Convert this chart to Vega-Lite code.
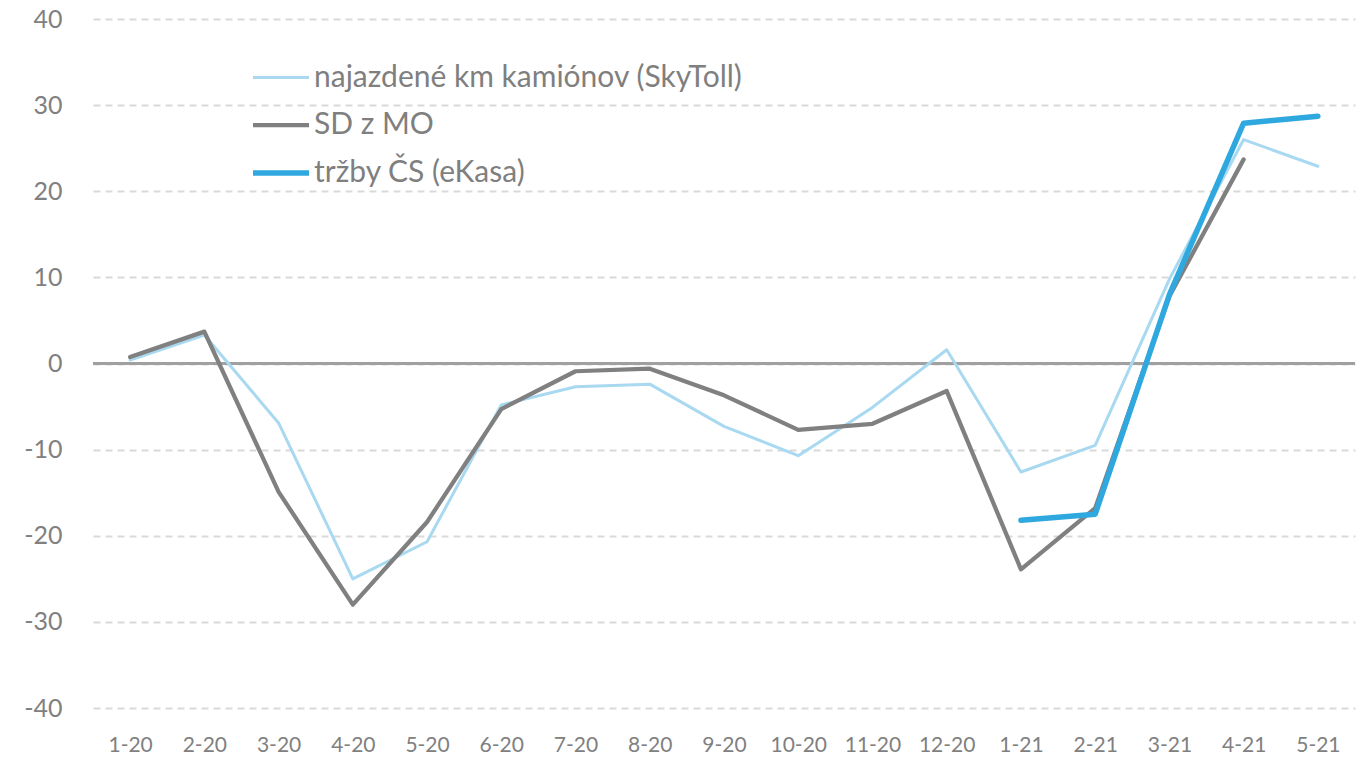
{
  "$schema": "https://vega.github.io/schema/vega-lite/v6.json",
  "width": 1262,
  "height": 689,
  "autosize": {"type": "none"},
  "padding": {"left": 93, "top": 19, "right": 10, "bottom": 49},
  "background": "white",
  "config": {"view": {"stroke": null}, "font": "Lato"},
  "data": {
    "values": [
      {"m": "1-20", "s": "najazdené km kamiónov (SkyToll)", "v": 0.4},
      {"m": "2-20", "s": "najazdené km kamiónov (SkyToll)", "v": 3.3},
      {"m": "3-20", "s": "najazdené km kamiónov (SkyToll)", "v": -6.9},
      {"m": "4-20", "s": "najazdené km kamiónov (SkyToll)", "v": -25.0},
      {"m": "5-20", "s": "najazdené km kamiónov (SkyToll)", "v": -20.7},
      {"m": "6-20", "s": "najazdené km kamiónov (SkyToll)", "v": -4.8},
      {"m": "7-20", "s": "najazdené km kamiónov (SkyToll)", "v": -2.7},
      {"m": "8-20", "s": "najazdené km kamiónov (SkyToll)", "v": -2.4},
      {"m": "9-20", "s": "najazdené km kamiónov (SkyToll)", "v": -7.3},
      {"m": "10-20", "s": "najazdené km kamiónov (SkyToll)", "v": -10.7},
      {"m": "11-20", "s": "najazdené km kamiónov (SkyToll)", "v": -5.1},
      {"m": "12-20", "s": "najazdené km kamiónov (SkyToll)", "v": 1.6},
      {"m": "1-21", "s": "najazdené km kamiónov (SkyToll)", "v": -12.6},
      {"m": "2-21", "s": "najazdené km kamiónov (SkyToll)", "v": -9.5},
      {"m": "3-21", "s": "najazdené km kamiónov (SkyToll)", "v": 9.8},
      {"m": "4-21", "s": "najazdené km kamiónov (SkyToll)", "v": 26.0},
      {"m": "5-21", "s": "najazdené km kamiónov (SkyToll)", "v": 22.9},
      {"m": "1-20", "s": "SD z MO", "v": 0.75},
      {"m": "2-20", "s": "SD z MO", "v": 3.7},
      {"m": "3-20", "s": "SD z MO", "v": -14.9},
      {"m": "4-20", "s": "SD z MO", "v": -28.0},
      {"m": "5-20", "s": "SD z MO", "v": -18.4},
      {"m": "6-20", "s": "SD z MO", "v": -5.3},
      {"m": "7-20", "s": "SD z MO", "v": -0.9},
      {"m": "8-20", "s": "SD z MO", "v": -0.6},
      {"m": "9-20", "s": "SD z MO", "v": -3.7},
      {"m": "10-20", "s": "SD z MO", "v": -7.7},
      {"m": "11-20", "s": "SD z MO", "v": -7.0},
      {"m": "12-20", "s": "SD z MO", "v": -3.2},
      {"m": "1-21", "s": "SD z MO", "v": -23.9},
      {"m": "2-21", "s": "SD z MO", "v": -16.8},
      {"m": "3-21", "s": "SD z MO", "v": 7.8},
      {"m": "4-21", "s": "SD z MO", "v": 23.7},
      {"m": "1-21", "s": "tržby ČS (eKasa)", "v": -18.2},
      {"m": "2-21", "s": "tržby ČS (eKasa)", "v": -17.5},
      {"m": "3-21", "s": "tržby ČS (eKasa)", "v": 8.0},
      {"m": "4-21", "s": "tržby ČS (eKasa)", "v": 27.9},
      {"m": "5-21", "s": "tržby ČS (eKasa)", "v": 28.7}
    ]
  },
  "layer": [
    {
      "mark": {"type": "rule", "color": "#a0a0a0", "strokeWidth": 2},
      "encoding": {"y": {"datum": 0, "type": "quantitative"}}
    },
    {
      "mark": {"type": "line", "strokeCap": "round", "strokeJoin": "round"},
      "encoding": {
        "x": {
          "field": "m",
          "type": "ordinal",
          "sort": ["1-20","2-20","3-20","4-20","5-20","6-20","7-20","8-20","9-20","10-20","11-20","12-20","1-21","2-21","3-21","4-21","5-21"],
          "scale": {"padding": 0.5},
          "axis": {
            "title": null,
            "domain": false,
            "ticks": false,
            "labelAngle": 0,
            "labelFontSize": 21,
            "labelColor": "#808080",
            "labelPadding": 26
          }
        },
        "y": {
          "field": "v",
          "type": "quantitative",
          "scale": {"domain": [-40, 40], "nice": false},
          "axis": {
            "title": null,
            "domain": false,
            "ticks": false,
            "grid": true,
            "values": [-40, -30, -20, -10, 0, 10, 20, 30, 40],
            "labelExpr": "'' + datum.value",
            "labelFontSize": 25,
            "labelColor": "#808080",
            "labelPadding": 31,
            "gridColor": "#d9d9d9",
            "gridWidth": 2,
            "gridDash": [7, 5]
          }
        },
        "color": {
          "field": "s",
          "type": "nominal",
          "sort": ["najazdené km kamiónov (SkyToll)", "SD z MO", "tržby ČS (eKasa)"],
          "scale": {
            "domain": ["najazdené km kamiónov (SkyToll)", "SD z MO", "tržby ČS (eKasa)"],
            "range": ["#a8d9f0", "#808080", "#2ea8df"]
          },
          "legend": {
            "title": null,
            "orient": "none",
            "legendX": 157,
            "legendY": 29,
            "symbolType": "stroke",
            "symbolSize": 3136,
            "symbolStrokeWidth": 4.5,
            "labelFontSize": 30,
            "labelLimit": 800,
            "labelColor": "#7f7f7f",
            "labelOffset": 2,
            "rowPadding": 1.5
          }
        },
        "strokeWidth": {
          "field": "s",
          "type": "nominal",
          "scale": {
            "domain": ["najazdené km kamiónov (SkyToll)", "SD z MO", "tržby ČS (eKasa)"],
            "range": [3, 5.5, 5]
          },
          "legend": null
        }
      }
    }
  ]
}
